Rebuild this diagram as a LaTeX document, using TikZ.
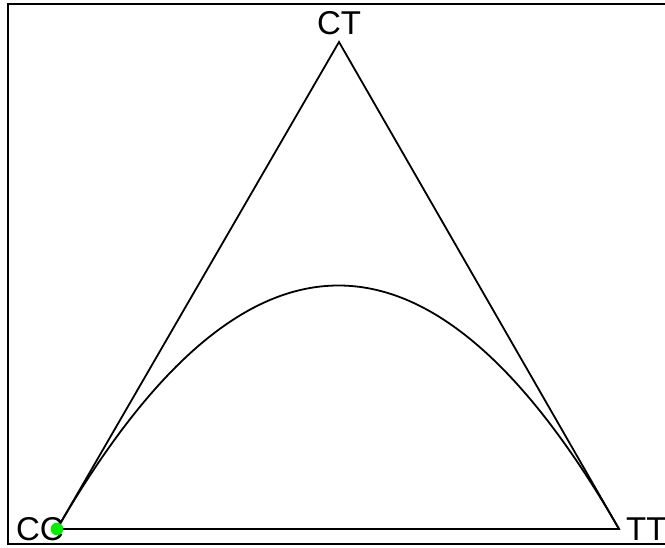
\documentclass[tikz,border=0pt]{standalone}
\usepackage{fontspec}
\setmainfont{Liberation Sans}
\usetikzlibrary{calc}

\begin{document}
\begin{tikzpicture}[
  x=1pt, y=-1pt,
  vlabel/.style={font=\fontsize{33}{33}\selectfont, inner sep=0pt},
  side/.style={line width=1.8pt, line join=miter},
  hwcurve/.style={line width=1.8pt},
  frame/.style={line width=1.8pt},
  marker/.style={fill={rgb,255:red,0;green,240;blue,0}}
]
\useasboundingbox (0,0) rectangle (665,548);

% frame (right side lies outside the picture)
\coordinate (ftr) at (665,4);
\coordinate (ftl) at (8,4);
\coordinate (fbl) at (8,544);
\coordinate (fbr) at (665,544);
\draw[frame] (ftr) -- (ftl) -- (fbl) -- (fbr);

% genotype corners
\coordinate (cc) at (57,529);
\coordinate (ct) at (339,42);
\coordinate (tt) at (619,529);

\draw[side] (cc) -- (ct) -- (tt) -- cycle;

% Hardy-Weinberg parabola
\draw[hwcurve] (cc) .. controls ($(cc)!2/3!(ct)$) and ($(tt)!2/3!(ct)$) .. (tt);

\node[vlabel, anchor=base] (ctlabel) at (339,35) {CT};
\node[vlabel, anchor=east] (cclabel) at (64,529) {CC};
\node[vlabel, anchor=west] (ttlabel) at (626,529) {TT};

\fill[marker] (cc) circle (6.3pt);
\end{tikzpicture}
\end{document}
